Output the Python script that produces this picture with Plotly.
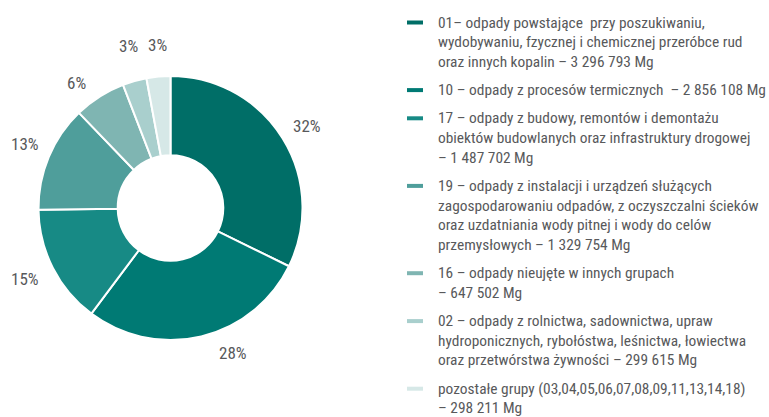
import math
import plotly.graph_objects as go

# ---- data ----
legend_lines = [
    ["01– odpady powstające  przy poszukiwaniu,",
     "wydobywaniu, fzycznej i chemicznej przeróbce rud",
     "oraz innych kopalin – 3 296 793 Mg"],
    ["10 – odpady z procesów termicznych  – 2 856 108 Mg"],
    ["17 – odpady z budowy, remontów i demontażu",
     "obiektów budowlanych oraz infrastruktury drogowej",
     "– 1 487 702 Mg"],
    ["19 – odpady z instalacji i urządzeń służących",
     "zagospodarowaniu odpadów, z oczyszczalni ścieków",
     "oraz uzdatniania wody pitnej i wody do celów",
     "przemysłowych – 1 329 754 Mg"],
    ["16 – odpady nieujęte w innych grupach",
     "– 647 502 Mg"],
    ["02 – odpady z rolnictwa, sadownictwa, upraw",
     "hydroponicznych, rybołóstwa, leśnictwa, łowiectwa",
     "oraz przetwórstwa żywności – 299 615 Mg"],
    ["pozostałe grupy (03,04,05,06,07,08,09,11,13,14,18)",
     "– 298 211 Mg"],
]
categories = ["01", "10", "17", "19", "16", "02", "pozostałe"]
values = [3296793, 2856108, 1487702, 1329754, 647502, 299615, 298211]
colors = ["#006e67", "#007a74", "#178a85", "#4f9e9b", "#7fb5b2", "#a9cfcd", "#d6e8e7"]

# ---- layout / style ----
W, H = 769, 417
FONT = "Roboto Condensed, DejaVu Sans Condensed, sans-serif"
TXT = "#58595b"
cx, cy, r = 170.5, 208, 132          # pie centre and radius in pixels
label_nudge = [(0, 3), (26, -7), (-2, -2), (3, -2), (-10, 7), (0, -13), (1, -10)]

fig = go.Figure(go.Pie(
    labels=categories,
    values=values,
    sort=False,
    direction="clockwise",
    rotation=0,
    hole=0.40,
    marker=dict(colors=colors, line=dict(color="white", width=2)),
    textinfo="none",
    domain=dict(x=[(cx - r) / W, (cx + r) / W], y=[(H - cy - r) / H, (H - cy + r) / H]),
    showlegend=False,
    hoverinfo="label+value+percent",
))

annotations = []
shapes = []

# percentage labels outside the slices, positioned from the data
total = sum(values)
cum = 0.0
for v, (nx, ny) in zip(values, label_nudge):
    frac = v / total
    mid = (cum + frac / 2) * 2 * math.pi
    cum += frac
    dx, dy = math.sin(mid), -math.cos(mid)
    txt = f"{round(frac * 100)}%"
    hw = 4.6 * len(txt)
    hh = 8
    dist = r + 13 + hw * abs(dx) + hh * abs(dy)
    px, py = cx + dist * dx + nx, cy + dist * dy + ny
    annotations.append(dict(xref="paper", yref="paper", x=px / W, y=(H - py) / H,
                            xanchor="center", yanchor="middle", showarrow=False,
                            text=txt, font=dict(family=FONT, size=17, color=TXT)))

# custom legend
pitch = 19.7
gap = 8.5
y = 22.5
for lines, col in zip(legend_lines, colors):
    shapes.append(dict(type="rect", xref="paper", yref="paper",
                       x0=407 / W, x1=423 / W,
                       y0=(H - y - 2) / H, y1=(H - y + 2) / H,
                       fillcolor=col, line=dict(width=0)))
    for i, ln in enumerate(lines):
        ly = y + i * pitch
        annotations.append(dict(xref="paper", yref="paper", x=436 / W, y=(H - ly) / H,
                                xanchor="left", yanchor="middle", showarrow=False,
                                text=ln, font=dict(family=FONT, size=15.4, color=TXT)))
    y += len(lines) * pitch + gap

fig.update_layout(
    width=W, height=H,
    margin=dict(l=0, r=0, t=0, b=0),
    paper_bgcolor="white", plot_bgcolor="white",
    annotations=annotations, shapes=shapes,
)

post = "document.body.style.margin = '0';"
fig.write_html("out.html", post_script=post, config={"displayModeBar": False})
